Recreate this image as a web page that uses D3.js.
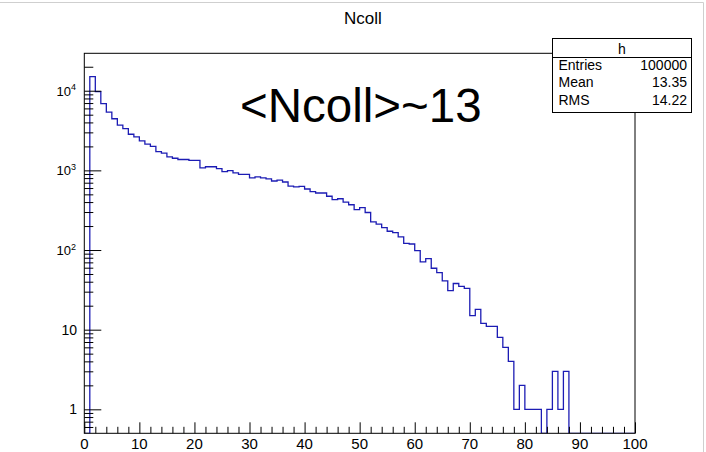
<!DOCTYPE html>
<html>
<head>
<meta charset="utf-8">
<script src="https://cdn.jsdelivr.net/npm/d3@7"></script>
<style>
  html, body { margin: 0; padding: 0; background: #fff; }
  svg { display: block; font-family: "Liberation Sans", Arial, Helvetica, sans-serif; }
</style>
</head>
<body>
<svg id="chart" width="706" height="452"></svg>
<script>
// ---- data (Ncoll histogram, 100 bins of width 1 from 0 to 100) ----
const binEdges = d3.range(0, 101);           // 0..100
const counts = [
  0, 15000, 9750, 6900, 5400, 4450, 3700, 3350, 2840, 2630,
  2345, 2140, 2000, 1720, 1650, 1480, 1420, 1370, 1370, 1335,
  1335, 1075, 1110, 1110, 1050, 965, 995, 930, 890, 890,
  805, 830, 805, 780, 735, 755, 715, 635, 620, 630,
  584, 540, 520, 520, 473, 429, 440, 400, 370, 322,
  340, 296, 226, 211, 191, 172, 165, 146, 121, 119,
  98, 71, 78, 59, 52, 41, 31, 38, 35, 33,
  15, 18, 12, 11, 11, 8, 6, 4, 1, 2,
  1, 1, 1, 0, 1, 3, 1, 3, 0, 0,
  0, 0, 0, 0, 0, 0, 0, 0, 0, 0
];
const xMajorTicks = [0, 10, 20, 30, 40, 50, 60, 70, 80, 90, 100];
const xMinorTicks = d3.range(0, 101, 2).filter(v => v % 10 !== 0);
const yMajorTicks = [1, 10, 100, 1000, 10000];
const yMajorLabels = [["1", ""], ["10", ""], ["10", "2"], ["10", "3"], ["10", "4"]];
const yMinorTicks = [0.6, 0.7, 0.8, 0.9,
  2, 3, 4, 5, 6, 7, 8, 9,
  20, 30, 40, 50, 60, 70, 80, 90,
  200, 300, 400, 500, 600, 700, 800, 900,
  2000, 3000, 4000, 5000, 6000, 7000, 8000, 9000, 20000];
const titleText = "Ncoll";
const annotation = "<Ncoll>~13";
const statsName = "h";
const statsLabels = ["Entries", "Mean", "RMS"];
const statsValues = ["100000", "13.35", "14.22"];

// ---- layout ----
const frame = { left: 84.3, right: 635, top: 53.3, bottom: 433.3 };
const svg = d3.select("#chart");

const x = d3.scaleLinear().domain([0, 100]).range([frame.left, frame.right]);
const yDomain = [0.5, 29500];
const y = d3.scaleLog().domain(yDomain).range([frame.bottom, frame.top]);
const yPos = v => v > 0 ? y(v) : y(yDomain[0]);

// canvas border (ROOT pad edge)
svg.append("line").attr("x1", 0).attr("x2", 703.5).attr("y1", 2.5).attr("y2", 2.5)
  .attr("stroke", "#cfcfcf").attr("stroke-width", 1);
svg.append("line").attr("x1", 703.5).attr("x2", 703.5).attr("y1", 2.5).attr("y2", 452)
  .attr("stroke", "#cfcfcf").attr("stroke-width", 1);

// clip
svg.append("clipPath").attr("id", "frameClip").append("rect")
  .attr("x", frame.left).attr("y", frame.top)
  .attr("width", frame.right - frame.left).attr("height", frame.bottom - frame.top);

// histogram
const pts = counts.map((c, i) => ({ x: binEdges[i], v: c }));
pts.push({ x: binEdges[100], v: counts[99] });
const line = d3.line().x(d => x(d.x)).y(d => yPos(d.v)).curve(d3.curveStepAfter);
svg.append("path")
  .attr("d", line(pts))
  .attr("clip-path", "url(#frameClip)")
  .attr("fill", "none")
  .attr("stroke", "#1c1cb4")
  .attr("stroke-width", 1.3);

// frame
svg.append("rect")
  .attr("x", frame.left).attr("y", frame.top)
  .attr("width", frame.right - frame.left).attr("height", frame.bottom - frame.top)
  .attr("fill", "none").attr("stroke", "#000").attr("stroke-width", 1);

// x axis ticks (inward)
const gxMinor = svg.append("g").attr("transform", `translate(0,${frame.bottom})`)
  .call(d3.axisBottom(x).tickValues(xMinorTicks).tickSize(-6.5).tickFormat(""));
const gxMajor = svg.append("g").attr("transform", `translate(0,${frame.bottom})`)
  .call(d3.axisBottom(x).tickValues(xMajorTicks).tickSize(-11).tickFormat(""));
[gxMinor, gxMajor].forEach(g => {
  g.selectAll(".domain").remove();
  g.selectAll("line").attr("stroke", "#000");
});
svg.append("g").selectAll("text").data(xMajorTicks).join("text")
  .attr("x", d => x(d))
  .attr("y", 448.5)
  .attr("text-anchor", "middle")
  .attr("font-size", 15)
  .attr("fill", "#000")
  .text(d => d);

// y axis ticks (inward)
const gyMinor = svg.append("g").attr("transform", `translate(${frame.left},0)`)
  .call(d3.axisLeft(y).tickValues(yMinorTicks).tickSize(-9).tickFormat(""));
const gyMajor = svg.append("g").attr("transform", `translate(${frame.left},0)`)
  .call(d3.axisLeft(y).tickValues(yMajorTicks).tickSize(-17).tickFormat(""));
[gyMinor, gyMajor].forEach(g => {
  g.selectAll(".domain").remove();
  g.selectAll("line").attr("stroke", "#000");
});

// y labels
const yl = svg.append("g");
yMajorTicks.forEach((v, i) => {
  const [base, exp] = yMajorLabels[i];
  const t = yl.append("text")
    .attr("x", 77).attr("y", y(v) + 5)
    .attr("text-anchor", "end")
    .attr("fill", "#000");
  if (exp) {
    t.attr("x", 76).attr("font-size", 13);
    t.append("tspan").text(base);
    t.append("tspan").attr("font-size", 9).attr("dy", -5.5).text(exp);
  } else {
    t.attr("font-size", 14).text(base);
  }
});

// title
svg.append("text")
  .attr("x", 363).attr("y", 24)
  .attr("text-anchor", "middle")
  .attr("font-size", 17)
  .attr("fill", "#000")
  .text(titleText);

// annotation
svg.append("text")
  .attr("x", 240).attr("y", 122)
  .attr("font-size", 47.5)
  .attr("fill", "#000")
  .text(annotation);

// stats box
const sb = { x: 552.5, y: 38.5, w: 139, h: 74, sep: 57.5 };
svg.append("rect")
  .attr("x", sb.x).attr("y", sb.y).attr("width", sb.w).attr("height", sb.h)
  .attr("fill", "#fff").attr("stroke", "#000").attr("stroke-width", 1);
svg.append("line")
  .attr("x1", sb.x).attr("x2", sb.x + sb.w).attr("y1", sb.sep).attr("y2", sb.sep)
  .attr("stroke", "#000").attr("stroke-width", 1);
svg.append("text")
  .attr("x", sb.x + sb.w / 2).attr("y", 54)
  .attr("text-anchor", "middle").attr("font-size", 14).attr("fill", "#000")
  .text(statsName);
statsLabels.forEach((lab, i) => {
  const yy = 70 + i * 17.3;
  svg.append("text").attr("x", 558.5).attr("y", yy)
    .attr("font-size", 14).attr("fill", "#000").text(lab);
  svg.append("text").attr("x", 687).attr("y", yy)
    .attr("text-anchor", "end").attr("font-size", 14).attr("fill", "#000").text(statsValues[i]);
});
</script>
</body>
</html>
